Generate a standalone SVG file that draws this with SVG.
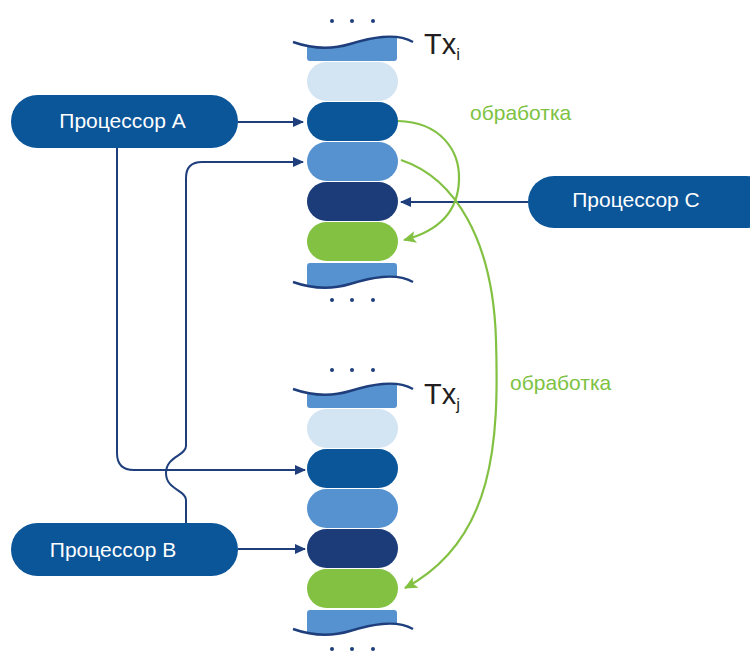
<svg xmlns="http://www.w3.org/2000/svg" xmlns:xlink="http://www.w3.org/1999/xlink" width="750" height="652" viewBox="0 0 750 652">
<style>
.proc{fill:#0b5599}
.ptxt{fill:#ffffff;font-family:"Liberation Sans",Arial,sans-serif;font-size:21px;text-anchor:middle}
.light{fill:#d3e4f3}
.dark{fill:#0b5599}
.mid{fill:#5592cf}
.navy{fill:#1b3c78}
.green{fill:#82c142}
.cap{fill:#5592cf}
.wave{fill:none;stroke:#1e3e7c;stroke-width:2.4}
.dot{fill:#1e3e7c}
.conn{fill:none;stroke:#1e3e7c;stroke-width:2}
.gconn{fill:none;stroke:#82c142;stroke-width:2.2}
.gtxt{fill:#7dc242;font-family:"Liberation Sans",Arial,sans-serif;font-size:21px}
.tx{fill:#231f20;font-family:"Liberation Sans",Arial,sans-serif;font-size:29px}
.sub{font-size:17px}
</style>
<defs>
<marker id="ah" markerWidth="12" markerHeight="10" refX="10" refY="5" orient="auto" markerUnits="userSpaceOnUse">
<path d="M0,0 L11,5 L0,10 Z" fill="#1e3e7c"/>
</marker>
<marker id="gh" markerWidth="14" markerHeight="12" refX="12" refY="6" orient="auto" markerUnits="userSpaceOnUse">
<path d="M0,0 L13,6 L0,12 L3,6 Z" fill="#82c142"/>
</marker>
<clipPath id="belowWave"><path d="M293,42 C310,48 330,50 350,44 C370,38 395,32 413,42 L413,80 L293,80 Z"/></clipPath>
<clipPath id="aboveWave"><path d="M293,282 C310,288 330,290 350,284 C370,278 395,272 413,282 L413,250 L293,250 Z"/></clipPath>
<g id="stack">
<g clip-path="url(#belowWave)"><rect class="cap" x="307" y="28" width="90" height="33" rx="3"/></g>
<path class="wave" d="M293,42 C310,48 330,50 350,44 C370,38 395,32 413,42"/>
<rect class="light" x="307" y="62" width="91" height="39" rx="19.5"/>
<rect class="dark" x="307" y="102" width="91" height="39" rx="19.5"/>
<rect class="mid" x="307" y="142" width="91" height="39" rx="19.5"/>
<rect class="navy" x="307" y="182" width="91" height="39" rx="19.5"/>
<rect class="green" x="307" y="222" width="91" height="39" rx="19.5"/>
<g clip-path="url(#aboveWave)"><rect class="cap" x="307" y="263" width="90" height="35" rx="3"/></g>
<path class="wave" d="M293,282 C310,288 330,290 350,284 C370,278 395,272 413,282"/>
</g>
</defs>

<g id="stack-i">
<use xlink:href="#stack"/>
<circle class="dot" cx="332" cy="21" r="2"/><circle class="dot" cx="352" cy="21" r="2"/><circle class="dot" cx="373" cy="21" r="2"/>
<circle class="dot" cx="332" cy="300" r="2"/><circle class="dot" cx="352" cy="300" r="2"/><circle class="dot" cx="373" cy="300" r="2"/>
<text class="tx" x="424" y="54">Tx<tspan class="sub" dy="6">i</tspan></text>
</g>

<g id="stack-j">
<use xlink:href="#stack" transform="translate(0,347)"/>
<circle class="dot" cx="332" cy="370" r="2"/><circle class="dot" cx="352" cy="370" r="2"/><circle class="dot" cx="373" cy="370" r="2"/>
<circle class="dot" cx="332" cy="649" r="2"/><circle class="dot" cx="352" cy="649" r="2"/><circle class="dot" cx="373" cy="649" r="2"/>
<text class="tx" x="424" y="404">Tx<tspan class="sub" dy="6">j</tspan></text>
</g>

<g id="connectors">
<path class="conn" d="M238,122 L303,122" marker-end="url(#ah)"/>
<path class="conn" d="M117,148 L117,453 Q117,470 134,470 L305,470" marker-end="url(#ah)"/>
<path class="conn" d="M186,523 L186,500 C186,490 166,490 166,473 C166,456 186,456 186,446 L186,178 Q186,162 202,162 L303,162" marker-end="url(#ah)"/>
<path class="conn" d="M238,549 L305,549" marker-end="url(#ah)"/>
<path class="conn" d="M528,202 L401,202" marker-end="url(#ah)"/>
<path class="gconn" d="M398,121 C440,122 460,150 459,180 C458,215 435,232 404,240" marker-end="url(#gh)"/>
<path class="gconn" d="M401,160 C455,178 493,240 496,340 C499,440 495,540 405,588" marker-end="url(#gh)"/>
<text class="gtxt" x="470" y="120">обработка</text>
<text class="gtxt" x="510" y="390">обработка</text>
</g>

<g id="procA">
<rect class="proc" x="11" y="95" width="227" height="53" rx="26.5"/>
<text class="ptxt" x="122.5" y="128">Процессор A</text>
</g>
<g id="procB">
<rect class="proc" x="11" y="523" width="227" height="53" rx="26.5"/>
<text class="ptxt" x="113" y="557">Процессор B</text>
</g>
<g id="procC">
<rect class="proc" x="528" y="176" width="244" height="52" rx="26"/>
<text class="ptxt" x="636" y="207">Процессор C</text>
</g>
</svg>
